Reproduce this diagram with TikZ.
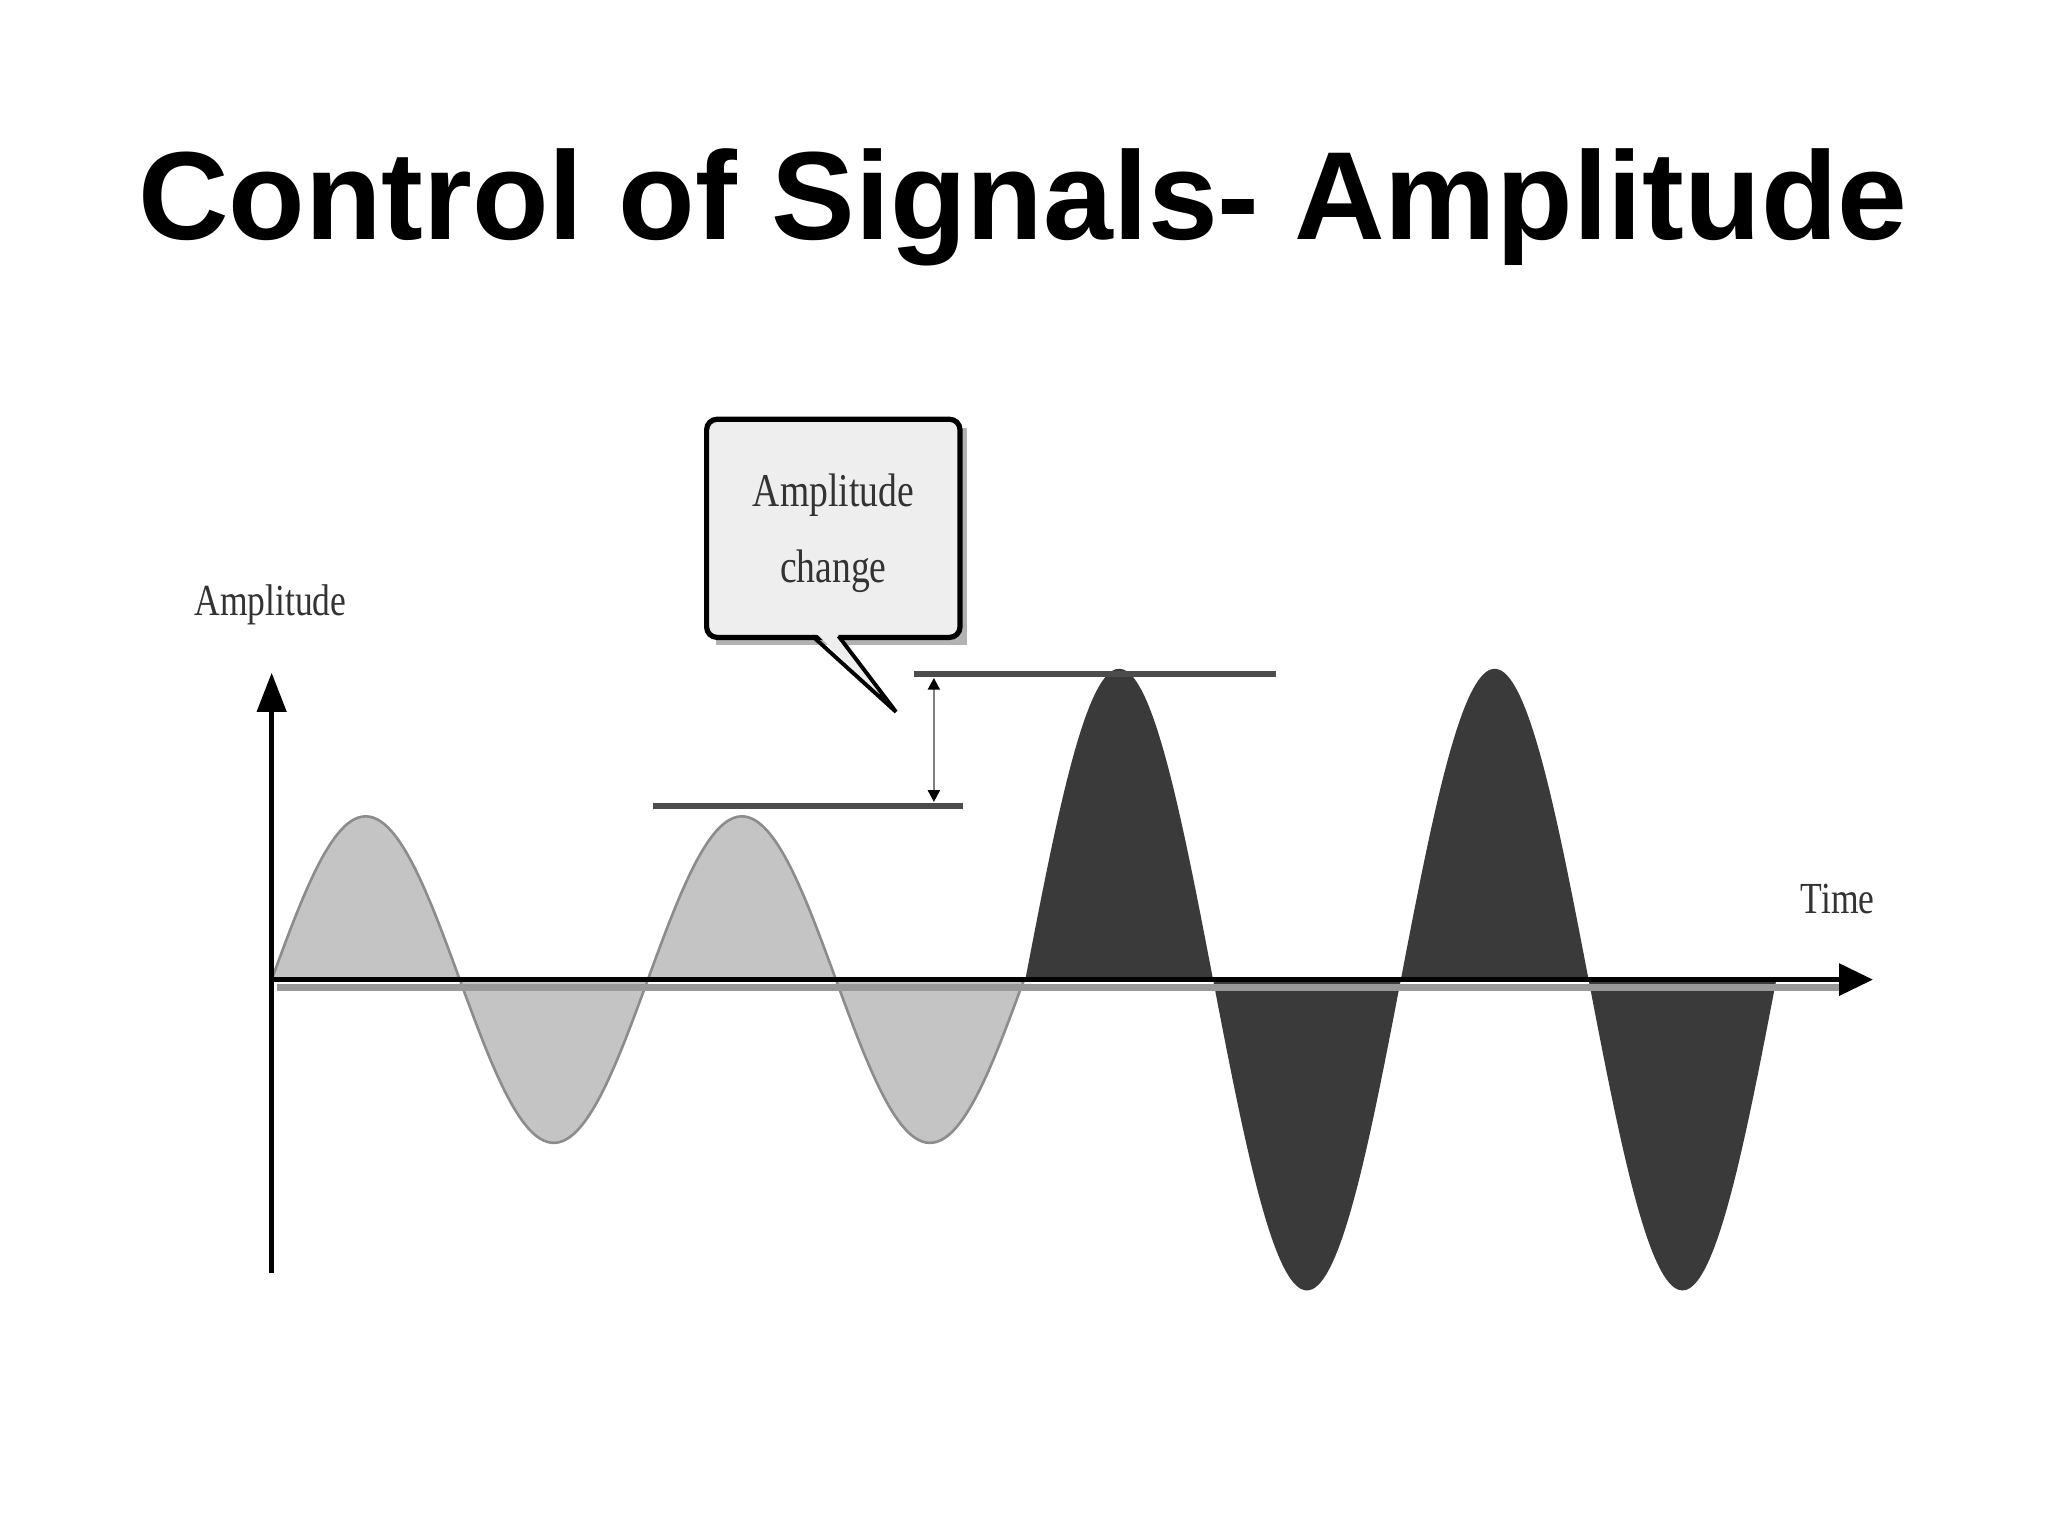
\documentclass[tikz,border=0pt]{standalone}
\usepackage{fontspec}
\setmainfont{Liberation Serif}
\newfontfamily\titlefont{Liberation Sans}
\usetikzlibrary{arrows.meta}
\definecolor{lightw}{HTML}{C4C4C4}
\definecolor{darkw}{HTML}{3A3A3A}
\definecolor{boxfill}{HTML}{EEEEEE}
\begin{document}
\begin{tikzpicture}[x=1pt,y=-1pt,
  lbl/.style={font=\fontsize{34}{38}\selectfont, text=black!80, inner sep=0pt, xscale=0.8},
  refline/.style={draw=black!70, line width=4pt}]
\useasboundingbox (0,0) rectangle (1568,1176);
\node[font=\titlefont\bfseries\fontsize{96}{100}\selectfont, anchor=base] (title) at (783,183) {Control of Signals- Amplitude};
% light waves
\fill[lightw, draw=black!45, line width=2pt, domain=0:576, samples=200, smooth]
  plot ({208+\x},{750-125*sin(\x/288*360)}) -- cycle;
% dark waves
\fill[darkw, domain=0:575, samples=200, smooth]
  plot ({785+\x},{750-238*sin(\x/287.5*360)}) -- cycle;
% axes
\coordinate (o) at (208,750);
\coordinate (ytip) at (208,515);
\coordinate (ybot) at (208,975);
\coordinate (xtip) at (1434,750);
\draw[black!40, line width=5pt] (212,756) -- (1410,756);
\draw[line width=4pt, -{Triangle[length=26pt,width=24pt]}] (o) -- (xtip);
\draw[line width=4pt, -{Triangle[length=30pt,width=22pt]}] (ybot) -- (ytip);
\node[lbl] (alab) at (207,463) {Amplitude};
\node[lbl] (tlab) at (1407,688) {Time};
% reference lines
\coordinate (l1a) at (500,617); \coordinate (l1b) at (737,617);
\coordinate (l2a) at (700,516); \coordinate (l2b) at (977,516);
\draw[refline] (l1a) -- (l1b);
\draw[refline] (l2a) -- (l2b);
\coordinate (da) at (715,519); \coordinate (db) at (715,614);
\draw[black!50, line width=2pt, {Triangle[length=9pt,width=9pt,black]}-{Triangle[length=9pt,width=9pt,black]}] (da) -- (db);
% callout
\fill[black!30] (548,328) rectangle (740,494);
\node[draw=black, line width=4pt, fill=boxfill, rounded corners=8pt, minimum width=194pt, minimum height=167pt, inner sep=0pt] (box) at (638,404.5) {};
\node[lbl, align=center, font=\fontsize{36}{58}\selectfont] (btxt) at (638,408) {Amplitude\\change};
\coordinate (tail) at (686,545);
\fill[boxfill] (624,484) -- (tail) -- (640,484) -- cycle;
\draw[line width=3pt] (622,487) -- (tail) -- (642,487);
\end{tikzpicture}
\end{document}
